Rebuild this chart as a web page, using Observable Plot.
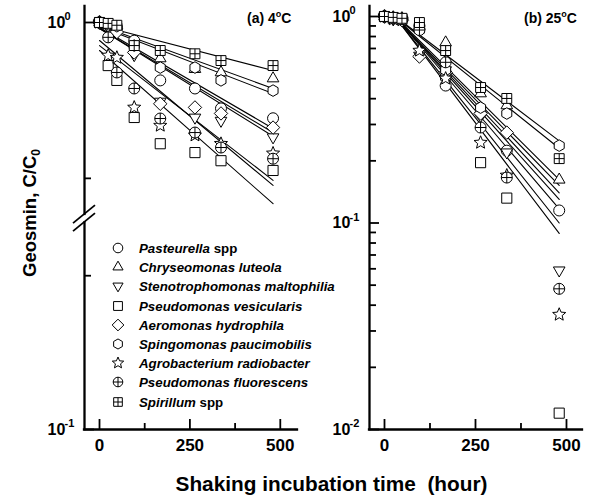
<!DOCTYPE html>
<html>
<head>
<meta charset="utf-8">
<script src="https://cdn.jsdelivr.net/npm/d3@7"></script>
<script src="https://cdn.jsdelivr.net/npm/@observablehq/plot@0.6"></script>
<style>
html,body{margin:0;padding:0;background:#fff;}
#chart{position:relative;width:592px;height:499px;overflow:hidden;font-family:"Liberation Sans",Arial,Helvetica,sans-serif;font-weight:bold;color:#000;}
#chart svg.pl{position:absolute;top:0;overflow:visible;}
.lbl{position:absolute;white-space:nowrap;line-height:1;font-weight:bold;}
.leg{position:absolute;white-space:nowrap;font-size:13.3px;font-style:italic;font-weight:bold;line-height:1;}
.leg svg{position:absolute;left:-29px;top:-2px;overflow:visible;}
.leg .n{font-style:normal;}
</style>
</head>
<body>
<div id="chart"></div>
<script>
// ---------------- data ----------------
const times = [0, 24, 48, 96, 168, 264, 336, 480];
const speciesNames = ["Pasteurella", "Chryseomonas luteola", "Stenotrophomonas maltophilia",
  "Pseudomonas vesicularis", "Aeromonas hydrophila", "Spingomonas paucimobilis",
  "Agrobacterium radiobacter", "Pseudomonas fluorescens", "Spirillum"];
const speciesSuffix = [" spp", "", "", "", "", "", "", "", " spp"];
const symbolNames = ["circle", "triangle", "triangleDown", "square", "diamond",
  "hexagon", "star", "circlePlus", "squarePlus"];

// (a) 4 °C  — C/C0 at each time, one row per species
const cold = [
  [1, 0.981, 0.953, 0.829, 0.550, 0.506, 0.412, 0.372],
  [1, 0.972, 0.934, 0.753, 0.690, 0.618, 0.597, 0.561],
  [1, 0.962, 0.906, 0.715, 0.442, 0.375, 0.363, 0.306],
  [1, 0.641, 0.550, 0.375, 0.286, 0.261, 0.240, 0.217],
  [1, 0.972, 0.906, 0.734, 0.432, 0.416, 0.391, 0.338],
  [1, 0.981, 0.962, 0.788, 0.628, 0.628, 0.550, 0.495],
  [1, 0.711, 0.696, 0.416, 0.345, 0.312, 0.286, 0.259],
  [1, 0.858, 0.597, 0.506, 0.371, 0.321, 0.275, 0.245],
  [1, 0.991, 0.972, 0.788, 0.749, 0.724, 0.675, 0.641]
];
const coldFitT = [0, 480];
const coldFitStart = [0.950, 0.969, 0.940, 0.749, 0.940, 0.959, 0.788, 0.830, 0.969];
const coldFitEnd   = [0.335, 0.506, 0.309, 0.154, 0.321, 0.480, 0.196, 0.186, 0.609];

// (b) 25 °C
const warm = [
  [1, 0.98, 0.97, 0.90, 0.463, 0.339, 0.224, 0.115],
  [1, 0.99, 0.98, 0.90, 0.748, 0.424, 0.371, 0.162],
  [1, 0.97, 0.96, 0.647, 0.55, 0.33, 0.22, 0.059],
  [1, 0.98, 0.97, 0.88, 0.52, 0.196, 0.132, 0.012],
  [1, 0.98, 0.96, 0.64, 0.536, 0.339, 0.274, null],
  [1, 0.99, 0.98, 0.90, 0.55, 0.362, 0.339, 0.237],
  [1, 0.97, 0.96, 0.684, 0.501, 0.245, 0.17, 0.036],
  [1, 0.98, 0.97, 0.86, 0.60, 0.29, 0.166, 0.048],
  [1, 0.99, 0.98, 0.935, 0.684, 0.453, 0.401, 0.205]
];
const warmFitT = [36, 480];
const warmFitStart = [0.967, 0.975, 0.967, 0.96, 0.967, 0.975, 0.96, 0.967, 0.98];
const warmFitEnd   = [0.117, 0.162, 0.13, 0.089, 0.152, 0.23, 0.10, 0.14, 0.25];

// axis ticks / labels
const xMajorTicks = [0, 250, 500];
const xMinorTicks = [125, 375];
const rightMajorTicks = [1, 0.1, 0.01];
const rightExponents = ["0", "-1", "-2"];
const rightMinorTicks = [0.02,0.03,0.04,0.05,0.06,0.07,0.08,0.09,0.2,0.3,0.4,0.5,0.6,0.7,0.8,0.9];
const leftExponents = ["0", "-1"];
const leftMinorTicks = [0.2, 0.0732];
const leftBreakAt = 0.132;

// ---------------- symbols ----------------
const TAU = 2 * Math.PI;
const rad = s => Math.sqrt(s / Math.PI);
const symbols = {
  circle: {draw(c, s) { const r = rad(s); c.moveTo(r, 0); c.arc(0, 0, r, 0, TAU); }},
  triangle: {draw(c, s) { const r = rad(s) * 1.22, h = r * Math.sqrt(3) / 2;
    c.moveTo(0, -r); c.lineTo(h, r / 2); c.lineTo(-h, r / 2); c.closePath(); }},
  triangleDown: {draw(c, s) { const r = rad(s) * 1.22, h = r * Math.sqrt(3) / 2;
    c.moveTo(0, r); c.lineTo(h, -r / 2); c.lineTo(-h, -r / 2); c.closePath(); }},
  square: {draw(c, s) { const a = rad(s) * 0.92; c.rect(-a, -a, 2 * a, 2 * a); }},
  diamond: {draw(c, s) { const a = rad(s) * 1.22;
    c.moveTo(0, -a); c.lineTo(a, 0); c.lineTo(0, a); c.lineTo(-a, 0); c.closePath(); }},
  hexagon: {draw(c, s) { const r = rad(s) * 1.05;
    for (let i = 0; i < 6; i++) { const a = Math.PI / 6 + i * Math.PI / 3;
      const x = r * Math.cos(a), y = r * Math.sin(a); i ? c.lineTo(x, y) : c.moveTo(x, y); }
    c.closePath(); }},
  star: {draw(c, s) { const R = rad(s) * 1.25, r0 = R * 0.45;
    for (let i = 0; i < 10; i++) { const a = -Math.PI / 2 + i * Math.PI / 5, rr = i % 2 ? r0 : R;
      const x = rr * Math.cos(a), y = rr * Math.sin(a); i ? c.lineTo(x, y) : c.moveTo(x, y); }
    c.closePath(); }},
  circlePlus: {draw(c, s) { const r = rad(s); c.moveTo(r, 0); c.arc(0, 0, r, 0, TAU);
    c.moveTo(-r, 0); c.lineTo(r, 0); c.moveTo(0, -r); c.lineTo(0, r); }},
  squarePlus: {draw(c, s) { const a = rad(s) * 0.9; c.rect(-a, -a, 2 * a, 2 * a);
    c.moveTo(-a, 0); c.lineTo(a, 0); c.moveTo(0, -a); c.lineTo(0, a); }}
};

// ---------------- panel builder ----------------
const FONT = '"Liberation Sans", Arial, Helvetica, sans-serif';
function panel(o) {
  const fw = o.width - o.mL - o.mR, fh = o.height - o.mT - o.mB;
  const marks = [];
  o.values.forEach((arr, i) => {
    marks.push(Plot.line([{t: o.fitT[0], v: o.fitStart[i]}, {t: o.fitT[1], v: o.fitEnd[i]}],
      {x: "t", y: "v", stroke: "black", strokeWidth: 1.1}));
  });
  o.values.forEach((arr, i) => {
    const pts = times.map((t, j) => ({t, v: arr[j]})).filter(d => d.v != null);
    marks.push(Plot.dot(pts, {x: "t", y: "v", symbol: symbols[symbolNames[i]], r: 5.5,
      stroke: "black", strokeWidth: 1, fill: "white"}));
  });
  // axis lines
  marks.push(Plot.ruleX([o.xDomain[0]], {strokeWidth: 2.3, strokeLinecap: "square"}));
  marks.push(Plot.ruleY([o.yDomain[0]], {strokeWidth: 2.3, strokeLinecap: "square"}));
  // x ticks (inward)
  marks.push(Plot.tickX(xMajorTicks, {x: d => d, insetTop: fh - 10, strokeWidth: 1.8}));
  marks.push(Plot.tickX(xMinorTicks, {x: d => d, insetTop: fh - 6, strokeWidth: 1.8}));
  marks.push(Plot.text(xMajorTicks, {x: d => d, frameAnchor: "bottom", dy: 21, text: d => String(d),
    fontSize: 17, fontWeight: "bold"}));
  // y ticks (inward)
  marks.push(Plot.tickY(o.yMajor, {y: d => d, insetRight: fw - 10, strokeWidth: 1.8}));
  marks.push(Plot.tickY(o.yMinor, {y: d => d, insetRight: fw - 7, strokeWidth: 1.8}));
  marks.push(Plot.text(o.yMajor, {y: d => d, frameAnchor: "left", text: () => "10", dx: -37,
    textAnchor: "start", fontSize: 16, fontWeight: "bold"}));
  marks.push(Plot.text(o.yMajor, {y: d => d, frameAnchor: "left", text: (d, i) => o.yExp[i], dx: -20, dy: -6,
    textAnchor: "start", fontSize: 11, fontWeight: "bold"}));
  const svg = Plot.plot({
    width: o.width, height: o.height,
    marginLeft: o.mL, marginRight: o.mR, marginTop: o.mT, marginBottom: o.mB,
    x: {domain: o.xDomain, axis: null},
    y: {type: "log", domain: o.yDomain, axis: null},
    style: {fontFamily: FONT, background: "transparent", overflow: "visible", color: "black"},
    marks
  });
  svg.classList.add("pl");
  svg.style.left = o.left + "px";
  return svg;
}

const chart = document.getElementById("chart");

// left panel: 1 at the top tick, ~223 px per decade above the break; bottom labelled 10^-1 (broken axis)
const kL = 223;
const leftDomain = [Math.pow(10, -407 / kL), Math.pow(10, 16 / kL)];
const left = panel({
  left: 0, width: 300, height: 470, mL: 84, mR: 3, mT: 6, mB: 41,
  xDomain: [-41.5, 547.6], yDomain: leftDomain,
  values: cold, fitT: coldFitT, fitStart: coldFitStart, fitEnd: coldFitEnd,
  yMajor: [1, leftDomain[0]], yExp: leftExponents, yMinor: leftMinorTicks
});
chart.appendChild(left);

// axis break marks
{
  const yb = left.scale("y").apply(leftBreakAt);
  const xa = 84;
  const g = d3.select(left).append("g");
  g.append("rect").attr("x", xa - 3).attr("y", yb - 3).attr("width", 6).attr("height", 6).attr("fill", "white");
  [-4, 4].forEach(off => {
    g.append("line").attr("x1", xa - 11).attr("y1", yb + off + 9).attr("x2", xa + 11).attr("y2", yb + off - 9)
      .attr("stroke", "black").attr("stroke-width", 1.8);
  });
}

// right panel: standard log 0.01..1
const right = panel({
  left: 292, width: 300, height: 470, mL: 77, mR: 10, mT: 6, mB: 41,
  xDomain: [-41.2, 544], yDomain: [0.01, Math.pow(10, 10 / 206.5)],
  values: warm, fitT: warmFitT, fitStart: warmFitStart, fitEnd: warmFitEnd,
  yMajor: rightMajorTicks, yExp: rightExponents, yMinor: rightMinorTicks
});
chart.appendChild(right);

// ---------------- text ----------------
function addLabel(html, css) {
  const d = document.createElement("div");
  d.className = "lbl";
  d.innerHTML = html;
  Object.assign(d.style, css);
  chart.appendChild(d);
  return d;
}
addLabel("(a) 4<sup style='font-size:9px;vertical-align:6px'>o</sup>C", {left: "247px", top: "10px", fontSize: "14px"});
addLabel("(b) 25<sup style='font-size:9px;vertical-align:6px'>o</sup>C", {left: "524px", top: "10px", fontSize: "14px"});
addLabel("Shaking incubation time&nbsp; (hour)", {left: "0px", width: "663px", textAlign: "center", top: "474px", fontSize: "20.8px"});
addLabel("Geosmin, C/C<sub style='font-size:12px;vertical-align:-4px'>0</sub>",
  {left: "31px", top: "213px", fontSize: "18.5px", transform: "translate(-50%,-50%) rotate(-90deg)"});

// legend
speciesNames.forEach((name, i) => {
  const row = document.createElement("div");
  row.className = "leg";
  row.style.left = "139px";
  row.style.top = (242 + i * 19.2) + "px";
  row.innerHTML = name + (speciesSuffix[i] ? `<span class="n">${speciesSuffix[i]}</span>` : "");
  const sv = d3.create("svg").attr("width", 16).attr("height", 16).attr("viewBox", "-8 -8 16 16");
  sv.append("path").attr("d", d3.symbol(symbols[symbolNames[i]], Math.PI * 4.8 * 4.8)())
    .attr("fill", "white").attr("stroke", "black").attr("stroke-width", 1);
  row.prepend(sv.node());
  chart.appendChild(row);
});
</script>
</body>
</html>
